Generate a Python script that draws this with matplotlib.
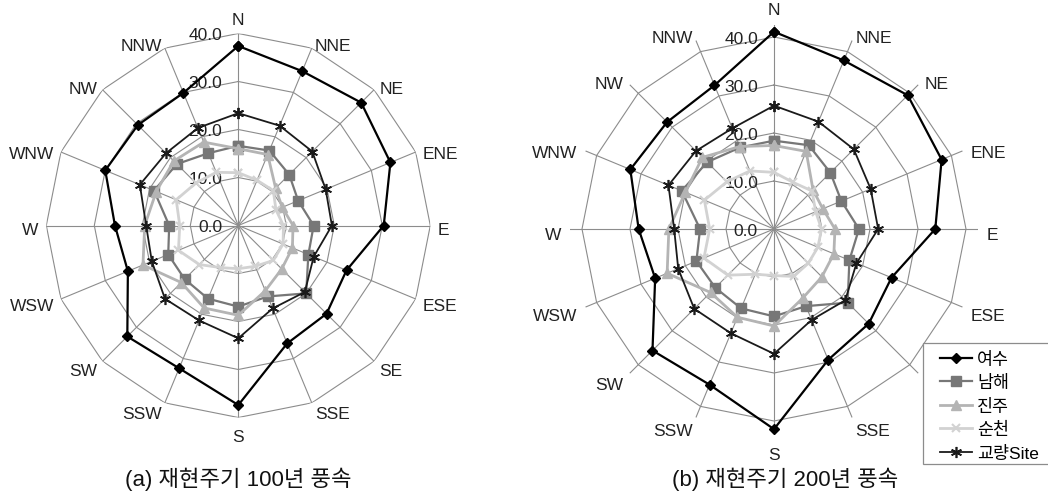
import numpy as np
import matplotlib
matplotlib.use("Agg")
import matplotlib.pyplot as plt
from matplotlib.patches import Rectangle

plt.rcParams['font.family'] = ['Liberation Sans', 'Noto Sans CJK KR', 'DejaVu Sans']

# 16 wind directions, clockwise from north
directions = ['N', 'NNE', 'NE', 'ENE', 'E', 'ESE', 'SE', 'SSE',
              'S', 'SSW', 'SW', 'WSW', 'W', 'WNW', 'NW', 'NNW']
radial_ticks = [0, 10, 20, 30, 40]
radial_labels = ['0.0', '10.0', '20.0', '30.0', '40.0']
series_names = ['여수', '남해', '진주', '순천', '교량Site']

# (a) return period 100 years
a_yeosu = [37.4, 34.8, 36.2, 34.3, 30.3, 24.4, 26.0, 26.6, 37.4, 32.2, 32.7, 24.9, 25.7, 30.0, 29.6, 29.9]
a_namhae = [16.6, 16.9, 15.0, 13.5, 15.7, 15.8, 20.0, 16.0, 16.9, 16.5, 15.8, 15.8, 14.4, 19.0, 18.1, 16.3]
a_jinju = [16.0, 16.0, 11.0, 9.9, 11.4, 12.2, 12.8, 14.7, 18.7, 18.6, 16.8, 21.5, 19.5, 18.5, 19.0, 18.8]
a_suncheon = [11.0, 10.2, 10.3, 8.5, 9.4, 10.1, 10.3, 9.2, 9.0, 9.5, 11.5, 13.5, 12.2, 14.0, 12.5, 12.0]
a_site = [23.4, 22.5, 21.8, 19.7, 19.5, 17.0, 19.6, 18.7, 23.5, 21.4, 21.6, 19.5, 19.2, 22.2, 21.3, 22.0]

# (b) return period 200 years
b_yeosu = [41.1, 38.0, 39.4, 37.8, 33.6, 26.5, 27.9, 29.5, 41.7, 35.1, 35.8, 26.8, 28.2, 32.4, 31.5, 32.4]
b_namhae = [18.4, 18.9, 16.6, 15.2, 17.7, 17.0, 21.7, 17.4, 18.2, 17.9, 17.3, 17.5, 15.4, 20.8, 19.7, 18.4]
b_jinju = [17.4, 17.5, 11.5, 11.0, 12.7, 13.5, 14.1, 15.6, 20.2, 19.9, 18.7, 24.1, 21.9, 20.0, 21.1, 18.6]
b_suncheon = [11.8, 10.5, 11.2, 9.4, 9.9, 9.9, 10.1, 10.7, 9.7, 10.2, 13.6, 15.8, 13.4, 15.7, 13.9, 13.1]
b_site = [25.7, 24.2, 23.5, 21.8, 21.7, 18.6, 21.0, 20.5, 26.0, 23.5, 23.5, 21.6, 20.8, 23.8, 23.0, 22.7]

# line / marker style per series
styles = [
    dict(color='#000000', marker='D', ms=5, lw=1.6),
    dict(color='#777777', marker='s', ms=7, lw=1.6),
    dict(color='#b4b4b4', marker='^', ms=7, lw=2.0),
    dict(color='#d2d2d2', marker='x', ms=6, mew=1.5, lw=2.0),
    dict(color='#1a1a1a', marker=(6, 2, 0), ms=8, mew=1.2, lw=1.3),
]

W, H = 1048, 502
fig = plt.figure(figsize=(W / 100, H / 100), dpi=100)

theta = np.deg2rad(np.arange(len(directions)) * 360.0 / len(directions))
theta_closed = np.append(theta, theta[0])
px_per_unit = 4.8


def radar(cx, cy, rmax, label_r, drop, series, caption, cap_x):
    R = rmax * px_per_unit
    ax = fig.add_axes([(cx - R) / W, (H - cy - R) / H, 2 * R / W, 2 * R / H], projection='polar')
    ax.set_theta_zero_location('N')
    ax.set_theta_direction(-1)
    ax.set_ylim(0, rmax)
    ax.grid(False)
    ax.set_xticks([])
    ax.set_yticks([])
    ax.spines['polar'].set_visible(False)
    ax.patch.set_visible(False)

    # polygon grid rings and spokes
    for r in radial_ticks[1:]:
        ax.plot(theta_closed, [r] * len(theta_closed), color='#8c8c8c', lw=0.8, zorder=1)
    for t in theta:
        ax.plot([t, t], [0, rmax], color='#8c8c8c', lw=0.8, zorder=1)

    # radial value labels along the north spoke
    for r, lab in zip(radial_ticks, radial_labels):
        ax.annotate(lab, xy=(0, r), xytext=(-16, -1), textcoords='offset pixels',
                    ha='right', va='center', fontsize=12.5, color='#222222', zorder=2)

    # direction labels
    for t, d in zip(theta, directions):
        s, c = np.sin(t), np.cos(t)
        ha = 'left' if s > 0.1 else ('right' if s < -0.1 else 'center')
        va = 'bottom' if c > 0.95 else ('top' if c < -0.95 else 'center')
        dy = -1 if d == 'N' else -drop
        ax.annotate(d, xy=(t, label_r), xytext=(0, dy), textcoords='offset pixels',
                    ha=ha, va=va, fontsize=12.5, color='#222222', annotation_clip=False)

    handles = []
    for vals, name, st in zip(series, series_names, styles):
        st = dict(st)
        col = st.pop('color')
        h, = ax.plot(theta_closed, list(vals) + [vals[0]], color=col, mfc=col, mec=col,
                     label=name, zorder=3, clip_on=False, **st)
        handles.append(h)

    fig.text(cap_x / W, 1 - 479 / H, caption, ha='center', va='center', fontsize=16, color='#111111')
    return ax, handles


radar(238.3, 226.5, 40, 41.6, 4, [a_yeosu, a_namhae, a_jinju, a_suncheon, a_site],
      '(a) 재현주기 100년 풍속', 238.5)
ax_b, handles = radar(774, 230, 42.5, 44.3, 5, [b_yeosu, b_namhae, b_jinju, b_suncheon, b_site],
                      '(b) 재현주기 200년 풍속', 785)

# legend box
fig.add_artist(Rectangle((923 / W, 1 - 465 / H), 140 / W, 121 / H, transform=fig.transFigure,
                         facecolor='white', edgecolor='#8c8c8c', lw=0.9, zorder=4))
leg = fig.legend(handles=handles, loc='upper left', bbox_to_anchor=(940 / W, 1 - 352 / H),
                 frameon=False, fontsize=12.5, handlelength=1.85, handletextpad=0.3,
                 labelspacing=0.43, borderpad=0, borderaxespad=0)
leg.set_zorder(5)

fig.savefig('out.png', dpi=100)
